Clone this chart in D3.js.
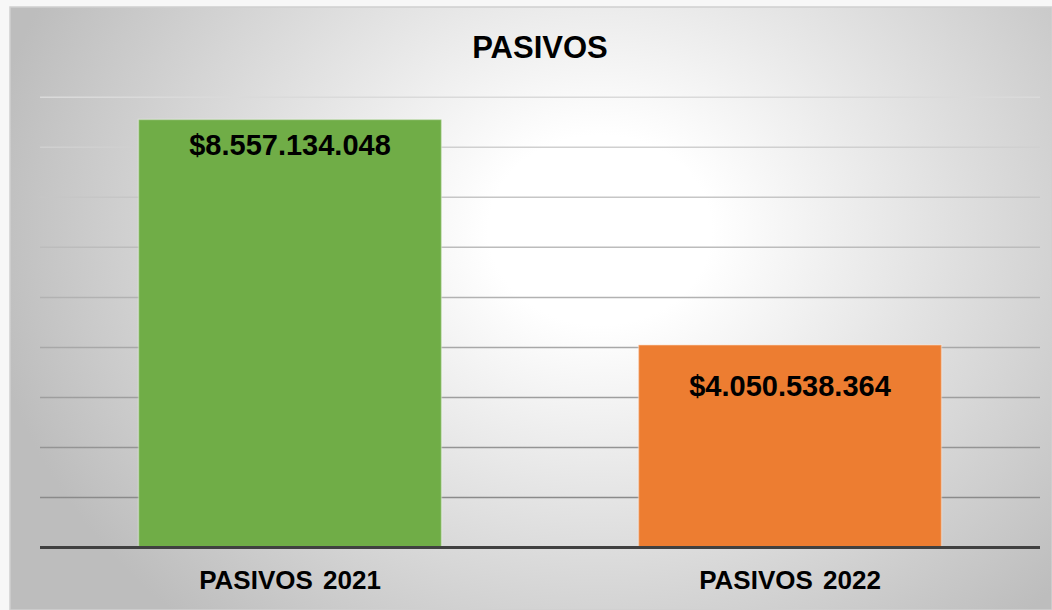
<!DOCTYPE html>
<html><head><meta charset="utf-8">
<script src="https://cdn.jsdelivr.net/npm/d3@7"></script>
<style>body{margin:0;background:#f7f7f7;}svg{display:block;}</style>
</head><body>
<svg id="c" width="1052" height="610"></svg>
<script>
const categories = ["PASIVOS 2021", "PASIVOS 2022"];
const values = [8557134048, 4050538364];
const labels = ["$8.557.134.048", "$4.050.538.364"];
const colors = ["#70ad47", "#ed7d31"];
const yTicks = [0,1e9,2e9,3e9,4e9,5e9,6e9,7e9,8e9,9e9];
const title = "PASIVOS";

(function(){
const svg = d3.select("#c");
const W = 1052, H = 610;
const defs = svg.append("defs");
const rg = defs.append("radialGradient").attr("id","bg")
  .attr("gradientUnits","userSpaceOnUse").attr("cx",600).attr("cy",230).attr("r",620)
  .attr("gradientTransform","translate(600,230) scale(1,0.85) translate(-600,-230)");
rg.append("stop").attr("offset","0").attr("stop-color","#ffffff");
rg.append("stop").attr("offset","0.18").attr("stop-color","#ffffff");
rg.append("stop").attr("offset","1").attr("stop-color","#bdbdbd");

const lg = defs.append("linearGradient").attr("id","gl")
  .attr("gradientUnits","userSpaceOnUse").attr("x1",0).attr("y1",97).attr("x2",0).attr("y2",500);
lg.append("stop").attr("offset","0").attr("stop-color","#dadada");
lg.append("stop").attr("offset","1").attr("stop-color","#8a8a8a");

svg.append("rect").attr("x",10).attr("y",7).attr("width",W-10).attr("height",H-7)
  .attr("fill","url(#bg)").attr("stroke","#d0d0d0").attr("stroke-width",1.5);

const pLeft = 40, pRight = 1040, pTop = 97.3, pBottom = 547.5;
const x = d3.scaleBand().domain(categories).range([pLeft,pRight]).paddingInner(0.394).paddingOuter(0.197);
const y = d3.scaleLinear().domain([0,9e9]).range([pBottom,pTop]);

svg.append("g").selectAll("line").data(yTicks.slice(1)).join("line")
  .attr("x1",pLeft).attr("x2",pRight).attr("y1",d=>y(d)).attr("y2",d=>y(d))
  .attr("stroke","url(#gl)").attr("stroke-width",1.5);

svg.append("g").selectAll("rect").data(values).join("rect")
  .attr("x",(d,i)=>x(categories[i])).attr("width",x.bandwidth())
  .attr("y",d=>y(d)).attr("height",d=>pBottom-y(d))
  .attr("fill",(d,i)=>colors[i]).attr("stroke","rgba(255,255,255,0.35)").attr("stroke-width",1.5);

svg.append("line").attr("x1",pLeft).attr("x2",pRight).attr("y1",pBottom).attr("y2",pBottom)
  .attr("stroke","#404040").attr("stroke-width",3);

const labelOffsets = [36, 51];
svg.append("g").selectAll("text").data(values).join("text")
  .attr("x",(d,i)=>x(categories[i])+x.bandwidth()/2)
  .attr("y",(d,i)=>y(d)+labelOffsets[i])
  .attr("text-anchor","middle").attr("font-family","Liberation Sans, Arial, sans-serif")
  .attr("font-weight","bold").attr("font-size",29).attr("fill","#000")
  .text((d,i)=>labels[i]);

const xAxis = svg.append("g").attr("transform",`translate(0,${pBottom})`)
  .call(d3.axisBottom(x).tickSize(0).tickPadding(0));
xAxis.select(".domain").remove();
xAxis.selectAll("text").attr("dy",null).attr("y",41.5)
  .attr("font-family","Liberation Sans, Arial, sans-serif").attr("font-weight","bold")
  .attr("font-size",26).attr("fill","#000").style("word-spacing","3px");

svg.append("text").attr("x",540).attr("y",58.3).attr("text-anchor","middle")
  .attr("font-family","Liberation Sans, Arial, sans-serif").attr("font-weight","bold")
  .attr("font-size",31).attr("fill","#000").text(title);
})();
</script>
</body></html>
